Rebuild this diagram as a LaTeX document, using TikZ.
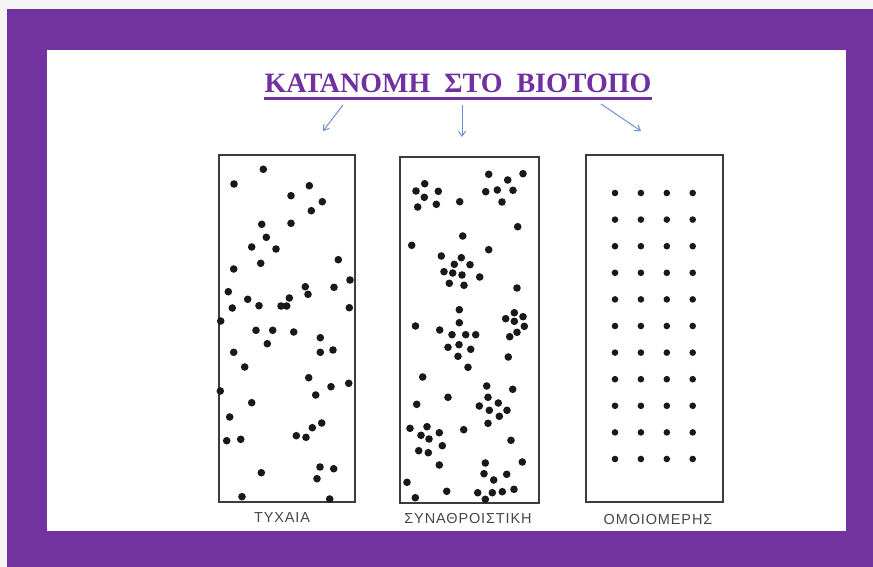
\documentclass[tikz,border=0pt]{standalone}
\usepackage{fontspec}
\setmainfont{Liberation Serif}
\newfontfamily\labfont[LetterSpace=6]{Liberation Sans}
\usetikzlibrary{arrows.meta}
\definecolor{framecol}{RGB}{114,50,160}
\definecolor{ttlcol}{RGB}{112,48,160}
\definecolor{arrcol}{RGB}{110,145,210}
\definecolor{inkcol}{RGB}{25,25,25}
\begin{document}
\begin{tikzpicture}[x=1pt,y=-1pt,
  panelbox/.style={draw=inkcol!85, line width=1.8pt, inner sep=0pt, anchor=north west},
  lab/.style={font=\labfont\fontsize{14.5}{17}\selectfont, text=inkcol!80},
  arrowline/.style={draw=arrcol, line width=1pt, -{Straight Barb[length=5pt,width=7pt]}}]
\useasboundingbox (0,0) rectangle (873,567);
\fill[gray!8] (0,0) rectangle (873,567);
\fill[framecol] (7,9) rectangle (873,567);
\fill[white] (47,50) rectangle (846,531);
% title
\node[text=ttlcol, font=\bfseries\fontsize{28}{33}\selectfont, anchor=base, inner sep=0pt] (title) at (458,93) {ΚΑΤΑΝΟΜΗ\ \ ΣΤΟ\ \ ΒΙΟΤΟΠΟ};
\draw[ttlcol, line width=2.2pt] ([yshift=-5.5pt]title.base west) -- ([yshift=-5.5pt]title.base east);
% arrows
\coordinate (a1s) at (343,105); \coordinate (a1e) at (323,131);
\coordinate (a2s) at (462,105); \coordinate (a2e) at (462,137);
\coordinate (a3s) at (601,104); \coordinate (a3e) at (641,131);
\draw[arrowline] (a1s) -- (a1e);
\draw[arrowline] (a2s) -- (a2e);
\draw[arrowline] (a3s) -- (a3e);
% panels
\node[panelbox, minimum width=136pt, minimum height=347pt] (p1) at (218,154) {};
\node[panelbox, minimum width=139pt, minimum height=346pt] (p2) at (399,156) {};
\node[panelbox, minimum width=137pt, minimum height=347pt] (p3) at (585,154) {};
\node[lab] (l1) at (282,518) {ΤΥΧΑΙΑ};
\node[lab] (l2) at (468,519) {ΣΥΝΑΘΡΟΙΣΤΙΚΗ};
\node[lab] (l3) at (658,520) {ΟΜΟΙΟΜΕΡΗΣ};
% random dots
\foreach \x/\y in {263.3/169.3,234/184,309.3/185.7,291/195.7,322.3/201.7,311.3/210.7,261.7/224.3,291/223.3,266.3/237.3,251.7/247,276/249,260.7/263.3,233.7/269,338.3/259.7,350/280,305.3/286.7,308/294.3,334/287.3,228.3/291.7,247.7/299.3,232.3/308,259/305.7,289.3/298,281/306,286.7/306,349.3/307.7,220.7/321,
256/330.3,272.7/330.3,293.7/332,320.3/337.7,267.3/343.7,233.7/352.3,320.3/352.3,333/350,244.7/367,308.7/377.7,348.7/383.3,331/386.7,220.3/391,315.7/395,251.7/402.7,229.7/417,321.7/423,312.3/427.7,226.7/440.7,240.7/439.3,296.3/435.7,306/437.3,261.3/472.7,320/467,333.7/468.7,317/478.7,242/496.7,329.7/499}
  \fill[inkcol] (\x,\y) circle (3.8);
% clumped dots
\foreach \x/\y in {488.7/174.3,523/173.7,507.7/180,424.7/183.7,416/191,438.3/191.3,485.7/191.7,497.3/190,513/190.3,424.3/197.3,459.7/201.7,436.3/204.3,502/202,417.7/207,517.7/226.7,462.7/236,411.7/245.3,488.7/249.7,441.3/256,461.3/257.7,454.3/264.3,470/264.7,444/271.7,452.7/273,462/275,479.7/277,449.3/283.3,464/285.3,517/288,459.3/309.7,514.3/312.7,523/316.7,505.7/318.7,514.3/321.3,459.3/322.7,415.5/326,
439.7/330,452/334.7,465.7/334.7,475.7/334.7,509.7/336.7,517/332.3,524.3/326.3,448/347.3,459/344.7,470.7/349.3,458/356.3,508.3/357,468/367.3,422.7/377,486.7/386,512.7/389.3,448/397.3,488/397.3,416.7/404.3,498.3/403,479.3/406,489.3/410.3,507/410.3,499.3/416.3,488/423.3,410/428.3,427/426.7,463.7/429.7,439.3/432.7,421/435.3,429/439,442.3/445.7,511/440.3,418.7/450.7,428.3/452.7,439.3/465,485.3/463,522.3/462,484/473.7,506.7/474.3,493.7/480,407/482.3,446.7/491.3,477.7/492.7,492.3/492.7,502.3/491.7,514/489.3,415.3/497.7,485.3/499.3}
  \fill[inkcol] (\x,\y) circle (3.8);
% uniform dots
\foreach \c in {0,...,3}
  \foreach \r in {0,...,10}
    \fill[inkcol] (615+25.9*\c,193+26.6*\r) circle (3.3);
\end{tikzpicture}
\end{document}
